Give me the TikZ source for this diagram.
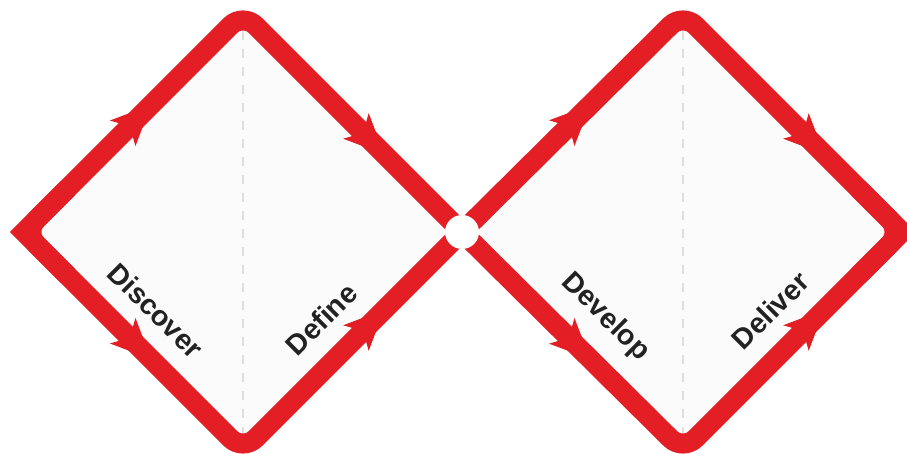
\documentclass[tikz,border=0pt]{standalone}
\usepackage{fontspec}
\setmainfont{Liberation Sans}
\usetikzlibrary{arrows.meta,calc}

\definecolor{ddred}{RGB}{227,30,36}
\definecolor{ddtext}{RGB}{34,34,34}

\begin{document}
\begin{tikzpicture}[
  x=1pt, y=1pt,
  band/.style={draw=ddred, line width=20pt, rounded corners=18pt},
  tipfix/.style={draw=ddred, line width=20pt, line join=miter, sharp corners},
  guide/.style={draw=black!13, line width=1.2pt, dash pattern=on 9pt off 9pt},
  arr/.style={ddred, line width=1pt, -{Stealth[length=40pt, width=36pt, inset=10pt]}},
  lbl/.style={font=\bfseries\fontsize{28.5}{28.5}\selectfont, text=ddtext, inner sep=0pt}
]
\useasboundingbox (0,0) rectangle (907,454);

% corners of the two diamonds
\coordinate (L1) at (24,222);
\coordinate (T1) at (243,441);
\coordinate (B1) at (243,3);
\coordinate (M)  at (462,222);
\coordinate (T2) at (683,441);
\coordinate (B2) at (683,3);
\coordinate (R2) at (902,222);

% light fill and middle guides
\fill[black!1.5] (L1) -- (T1) -- (M) -- (B1) -- cycle;
\fill[black!1.5] (M) -- (T2) -- (R2) -- (B2) -- cycle;
\draw[guide] (T1) -- (B1);
\draw[guide] (T2) -- (B2);

% the red band
\draw[band] (L1) -- (T1) -- (M) -- (B2) -- (R2) -- (T2) -- (M) -- (B1) -- cycle;
\draw[tipfix] ($(L1)!0.2!(T1)$) -- (L1) -- ($(L1)!0.2!(B1)$);
\draw[tipfix] ($(R2)!0.2!(T2)$) -- (R2) -- ($(R2)!0.2!(B2)$);

% arrow heads
\foreach \a/\b/\s in {L1/T1/0.45, T1/M/0.515, L1/B1/0.45, B1/M/0.515,
                      M/T2/0.45, T2/R2/0.515, M/B2/0.45, B2/R2/0.515}
  \draw[arr] ($(\a)!\s!(\b)$) -- ($(\a)!\s+0.13!(\b)$);

\node[circle, fill=white, minimum size=34pt, inner sep=0pt] (hub) at (M) {};

% phase labels
\path (L1) -- node[lbl, pos=0.48, sloped, above=27pt] (discover) {Discover} (B1);
\path (B1) -- node[lbl, pos=0.48, sloped, above=27pt] (define) {Define} (M);
\path (M) -- node[lbl, pos=0.52, sloped, above=27pt] (develop) {Develop} (B2);
\path (B2) -- node[lbl, pos=0.52, sloped, above=27pt] (deliver) {Deliver} (R2);
\end{tikzpicture}
\end{document}
